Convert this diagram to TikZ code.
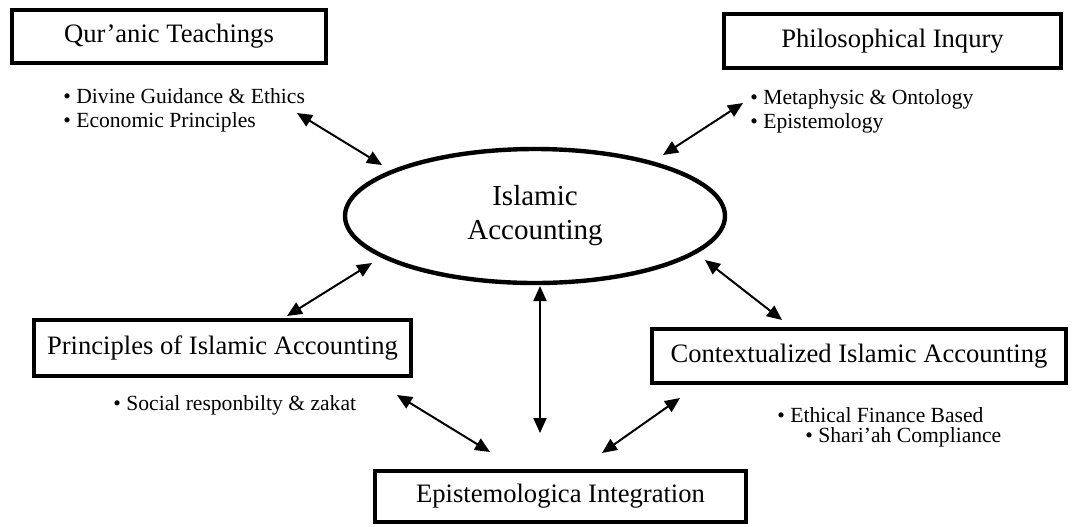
\documentclass[tikz,border=0pt]{standalone}
\usepackage{fontspec}
\setmainfont{Liberation Serif}
\usetikzlibrary{arrows.meta,shapes.geometric}
\tikzset{
  box/.style={draw, line width=2.2pt, inner sep=0pt, font=\fontsize{13.3}{16}\selectfont},
  bullets/.style={anchor=west, align=left, inner sep=0pt, font=\fontsize{10.8}{12}\selectfont},
  link/.style={<->, line width=1pt}
}
\begin{document}
\begin{tikzpicture}[x=0.5pt, y=-0.5pt, >={Triangle[length=7.5pt,width=6.5pt]}]
      \useasboundingbox (0,0) rectangle (1073,526);
      \draw
        (535,216) node[draw, ellipse, line width=2.2pt, minimum width=190pt, minimum height=67pt,
          align=center, font=\fontsize{14.5}{17}\selectfont] (isl){Islamic\\Accounting}
        (169,36.5) node[box, minimum width=157pt, minimum height=26.5pt] (qur){Qur'anic Teachings}
        (892.5,41) node[box, minimum width=168.5pt, minimum height=27pt] (phil){Philosophical Inqury}
        (222.5,348) node[box, minimum width=188.5pt, minimum height=28pt] (prin){Principles of Islamic Accounting}
        (859,356) node[box, minimum width=207pt, minimum height=27pt] (ctx){Contextualized Islamic Accounting}
        (560.5,496.5) node[box, minimum width=185.5pt, minimum height=25.5pt] (epis){Epistemologica Integration};
      \draw
        (63,110) node[bullets] (qurb){\textbullet{} Divine Guidance \& Ethics\\\textbullet{} Economic Principles}
        (750,111) node[bullets] (philb){\textbullet{} Metaphysic \& Ontology\\\textbullet{} Epistemology}
        (113,405) node[bullets] (prinb){\textbullet{} Social responbilty \& zakat}
        (777,415) node[bullets] (ctxb1){\textbullet{} Ethical Finance Based}
        (805,437) node[bullets] (ctxb2){\textbullet{} Shari'ah Compliance};
      \coordinate (qa) at (297,113);
      \coordinate (qi) at (382,165);
      \coordinate (pa) at (743,103);
      \coordinate (pi) at (663,155);
      \coordinate (ra) at (287,316);
      \coordinate (ri) at (372,263);
      \coordinate (ca) at (782,320);
      \coordinate (ci) at (705,260);
      \coordinate (ia) at (540,286);
      \coordinate (ea) at (540,433);
      \coordinate (rb) at (397,395);
      \coordinate (er) at (490,452);
      \coordinate (cb) at (680,398);
      \coordinate (ec) at (602,453);
      \begin{scope}[link]
        \draw (qa) to (qi);
        \draw (pa) to (pi);
        \draw (ra) to (ri);
        \draw (ca) to (ci);
        \draw (ia) to (ea);
        \draw (rb) to (er);
        \draw (cb) to (ec);
      \end{scope}
    \end{tikzpicture}
\end{document}
